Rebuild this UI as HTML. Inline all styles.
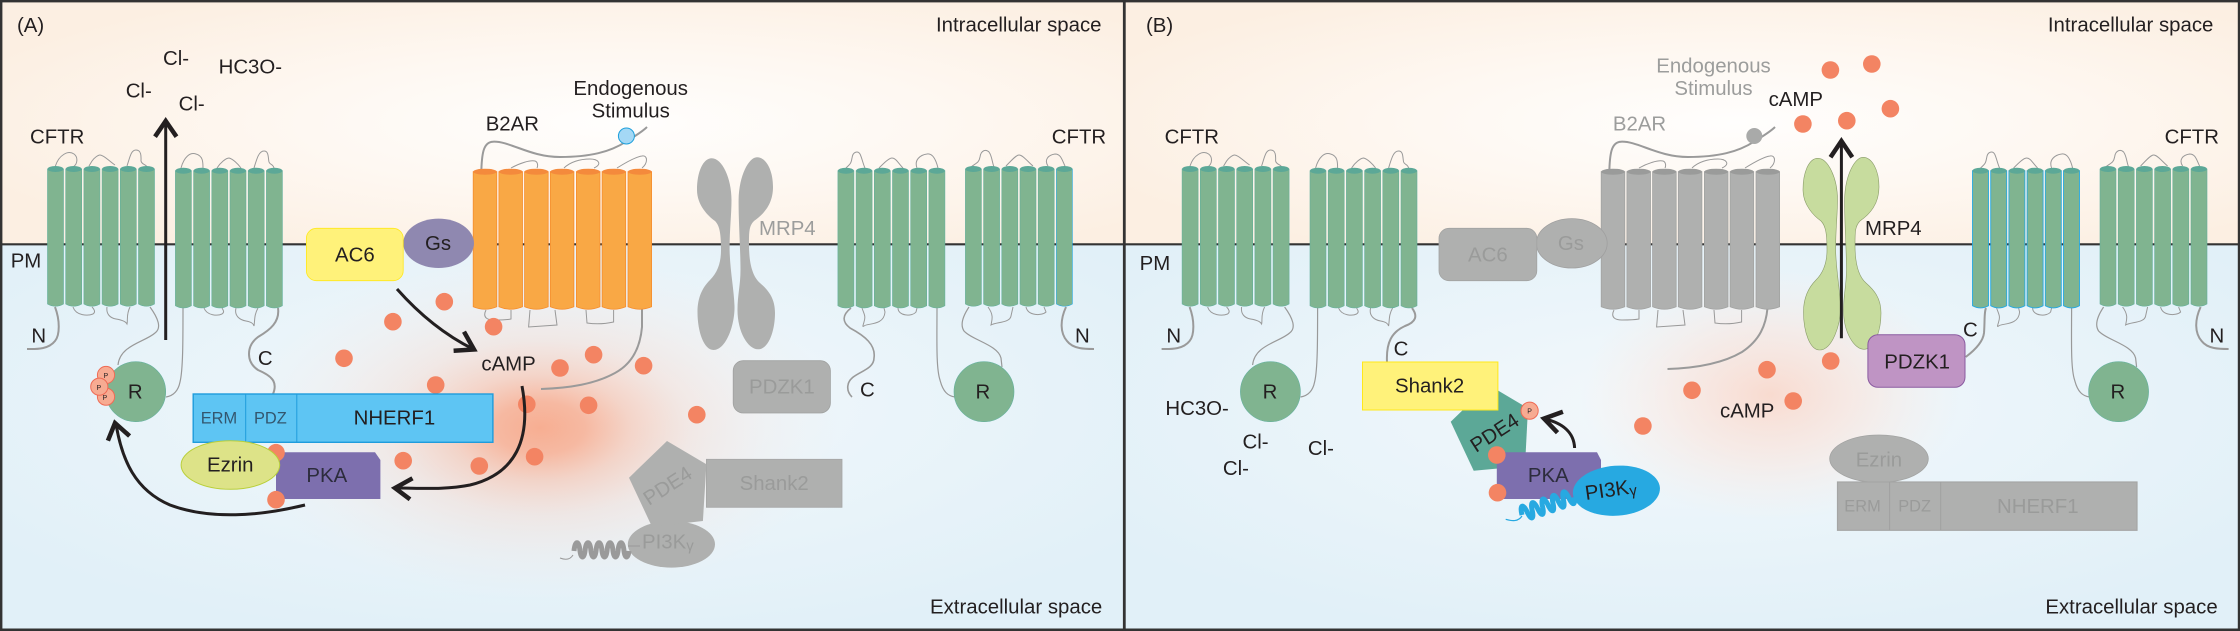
<!DOCTYPE html>
<html><head><meta charset="utf-8"><style>
html,body{margin:0;padding:0;background:#fff}
svg{display:block}
text{font-family:"Liberation Sans",sans-serif;font-size:20.4px;fill:#231f20}
.g{fill:#9c9d9c}
.d{fill:#9a9b9a}
.s{font-size:16.4px}
.p{font-size:7px}
.dot{fill:#f38463}
.lp{fill:none;stroke:#999;stroke-width:1}
.tl{fill:none;stroke:#9a9a9a;stroke-width:2}
.ar{fill:none;stroke:#231f20;stroke-width:3}
.hd{fill:none;stroke:#231f20;stroke-width:4.5}
.pc{fill:#f7ab92;stroke:#ef6b55;stroke-width:1}
</style></head><body>
<svg width="2240" height="631" viewBox="0 0 2240 631" xmlns="http://www.w3.org/2000/svg">
<defs>
<radialGradient id="up" cx=".55" cy=".5" r=".62"><stop offset="0" stop-color="#fffefd"/><stop offset=".45" stop-color="#fef8f2"/><stop offset="1" stop-color="#fcefe2"/></radialGradient>
<radialGradient id="lo" cx=".5" cy=".42" r=".62"><stop offset="0" stop-color="#f3f8fb"/><stop offset="1" stop-color="#e1f0f8"/></radialGradient>
<radialGradient id="gA"><stop offset="0" stop-color="#f7ae92" stop-opacity="1"/><stop offset=".15" stop-color="#f7ae92" stop-opacity=".85"/><stop offset=".3" stop-color="#f7b49a" stop-opacity=".52"/><stop offset=".5" stop-color="#f7c4b0" stop-opacity=".28"/><stop offset=".75" stop-color="#f8d8cc" stop-opacity=".14"/><stop offset="1" stop-color="#f8e6de" stop-opacity="0"/></radialGradient>
<radialGradient id="gB"><stop offset="0" stop-color="#f9d9cd" stop-opacity=".95"/><stop offset=".5" stop-color="#f9e4dc" stop-opacity=".6"/><stop offset="1" stop-color="#f9ece6" stop-opacity="0"/></radialGradient>
<path id="cyl" d="M0,0V135Q8,139.5 16,135V0Z"/>
<path id="cyo" d="M0,0V135Q11.8,140 23.6,135V0Z"/>
<g id="coil"><path d="M0,0c1,-11 5,-11 6,0c1,8 4,8 5,0c1,-11 5,-11 6,0c1,8 4,8 5,0c1,-11 5,-11 6,0c1,8 4,8 5,0c1,-11 5,-11 6,0c1,8 4,8 5,0c1,-11 5,-11 6,0c1,8 4,8 5,0" fill="none" stroke-width="5"/></g>
<path id="mrp" d="M711.8,158.3C703,158.3 697,172 697,190C697,205 708,216 715,221C720,226 721,235 721,250C721,262 718,272 710,280C702,288 697.5,298 697.5,312C697.5,332 704,350 713.6,350C726,350 735,325 734.5,306C734,290 730,270 729.6,250C729.5,230 731.5,215 731.5,200C731.5,178 722,158.3 711.8,158.3ZM757,157.3C749,157.3 739,175 738.6,200C738.4,220 740.5,250 740.5,270C740.5,285 737.5,295 737.5,310C737.5,332 748,349.3 758,349.3C769,349.3 775,330 775,313C775,298 768,290 760,283C752,276 749,262 749,245C749,232 749,226 754,221C764,214 773,204 773,187C773,170 766,157.3 757,157.3Z"/>
<g id="cftrl">
<path class="lp" d="M55.4,166C59,155 68,150 74,154C78,157 78,164 73,167M89,166L92,161C94,158 98,155 100,155C104,155 110,162 115,165M127,166C130,157 131,150 136,150C142,150 141,158 141,161C142,165 146,164 147,167M181,168C184,157 190,152 196,154C203,156 203,162 203,168M217,168C220,163 226,158 229,158C233,159 238,164 241,168M254,168C257,158 259,151 264,151C269,151 268,158 269,162C270,165 273,164 274,168M73,307C76,316 88,316 93,314C96,312 94,309 92,307M107,307C106,314 110,318 116,319C122,320 126,322 127,324C128,320 126,315 130,307M204,308C207,316 218,316 222,314C225,312 223,310 222,308M236,308C234,316 240,320 246,321C251,322 253,323 254,326C255,320 254,315 258,308M846,168C850,164 851,164 852,158C853,151 858,151 860,154C862,158 863,164 865,168M879,168C884,163 889,158 892,158C896,158 898,163 903,168M917,168C914,160 920,155 927,154C933,153 936,160 938,168M862,308C864,314 866,316 864,322C863,326 862,327 864,326C867,323 884,326 885,312L884,308M898,308C898,316 912,317 916,312L917,308M971,167C976,163 979,163 980,157C981,150 986,149 989,152C992,156 992,162 994,167M1006,166C1011,161 1016,155 1019,155C1023,155 1028,162 1033,166M1048,166C1044,160 1048,155 1055,154C1061,154 1062,160 1065,166M988,307C994,315 992,320 991,325C996,322 1010,323 1011,316L1013,307M1026,307C1028,316 1042,316 1046,312L1044,307"/>
<path class="lp" d="M150,307C158,318 162,328 155,333C145,342 120,345 118,365M183,308C183,340 183,370 180,382C178,392 172,396 166,397M937,308C937,340 936,368 940,380C943,392 948,396 955,397M969,307C963,316 960,325 964,331C972,340 998,345 1001,358L1002,367" style="stroke-width:1.2"/>
<path class="tl" d="M55,307C60,320 60,335 55,341C48,350 35,349 27,349M1066,307C1060,320 1060,333 1067,341C1073,349 1085,349 1094,349"/>
</g>
<g id="b2l">
<path class="lp" d="M511,168C520,163 530,160 535,161C538,162 538,166 537,168M564,168C570,162 580,159 590,159C598,159 603,164 594,168M617,168C625,163 635,157 642,156C648,155 648,163 642,168M486,310C482,318 488,320 494,320C500,320 506,320 511,319V310M530,310L528.6,327L557,325L555,310M586,310L587,323Q600,325 613.6,322L613.6,310"/>
<path class="tl" d="M481.4,169C482,152 484,142 493,141.7C510,141 530,157 560,157C590,157 610,152 626,141.7C635,136 642,132 647,127"/>
</g>
</defs>

<!-- backgrounds -->
<rect x="0" y="0" width="2240" height="631" fill="#fff"/>
<rect x="2" y="2" width="1122" height="242" fill="url(#up)"/>
<rect x="1124" y="2" width="1116" height="242" fill="url(#up)"/>
<rect x="2" y="244" width="1122" height="386" fill="url(#lo)"/>
<rect x="1124" y="244" width="1116" height="386" fill="url(#lo)"/>
<ellipse cx="540" cy="428" rx="300" ry="175" fill="url(#gA)"/>
<ellipse cx="1770" cy="395" rx="190" ry="125" fill="url(#gB)"/>
<line x1="0" y1="244.3" x2="2240" y2="244.3" stroke="#333" stroke-width="2.2"/>

<!-- PANEL A cylinders -->
<use href="#cftrl"/>
<g fill="#80b490" stroke="#63b09c" stroke-width=".6">
<use href="#cyl" x="47.5" y="169"/><use href="#cyl" x="65.7" y="169"/><use href="#cyl" x="83.9" y="169"/><use href="#cyl" x="102.1" y="169"/><use href="#cyl" x="120.3" y="169"/><use href="#cyl" x="138.5" y="169"/>
<use href="#cyl" x="175.4" y="170.7"/><use href="#cyl" x="193.6" y="170.7"/><use href="#cyl" x="211.8" y="170.7"/><use href="#cyl" x="230" y="170.7"/><use href="#cyl" x="248.2" y="170.7"/><use href="#cyl" x="266.4" y="170.7"/>
<use href="#cyl" x="837.9" y="170.7"/><use href="#cyl" x="856.1" y="170.7"/><use href="#cyl" x="874.3" y="170.7"/><use href="#cyl" x="892.5" y="170.7"/><use href="#cyl" x="910.7" y="170.7"/><use href="#cyl" x="928.9" y="170.7"/>
<use href="#cyl" x="965.4" y="169"/><use href="#cyl" x="983.6" y="169"/><use href="#cyl" x="1001.8" y="169"/><use href="#cyl" x="1020" y="169"/><use href="#cyl" x="1038.2" y="169"/>
<use href="#cyl" x="1056.4" y="169" stroke="#27a9e1"/>
</g>
<g fill="#5ca897">
<ellipse cx="55.5" cy="169" rx="8" ry="3"/><ellipse cx="73.7" cy="169" rx="8" ry="3"/><ellipse cx="91.9" cy="169" rx="8" ry="3"/><ellipse cx="110.1" cy="169" rx="8" ry="3"/><ellipse cx="128.3" cy="169" rx="8" ry="3"/><ellipse cx="146.5" cy="169" rx="8" ry="3"/>
<ellipse cx="183.4" cy="170.7" rx="8" ry="3"/><ellipse cx="201.6" cy="170.7" rx="8" ry="3"/><ellipse cx="219.8" cy="170.7" rx="8" ry="3"/><ellipse cx="238" cy="170.7" rx="8" ry="3"/><ellipse cx="256.2" cy="170.7" rx="8" ry="3"/><ellipse cx="274.4" cy="170.7" rx="8" ry="3"/>
<ellipse cx="845.9" cy="170.7" rx="8" ry="3"/><ellipse cx="864.1" cy="170.7" rx="8" ry="3"/><ellipse cx="882.3" cy="170.7" rx="8" ry="3"/><ellipse cx="900.5" cy="170.7" rx="8" ry="3"/><ellipse cx="918.7" cy="170.7" rx="8" ry="3"/><ellipse cx="936.9" cy="170.7" rx="8" ry="3"/>
<ellipse cx="973.4" cy="169" rx="8" ry="3"/><ellipse cx="991.6" cy="169" rx="8" ry="3"/><ellipse cx="1009.8" cy="169" rx="8" ry="3"/><ellipse cx="1028" cy="169" rx="8" ry="3"/><ellipse cx="1046.2" cy="169" rx="8" ry="3"/><ellipse cx="1064.4" cy="169" rx="8" ry="3"/>
</g>
<!-- A tails -->
<path class="tl" d="M278,308C280,322 270,330 258,337C246,346 246,362 258,370C272,376 278,382 273,394"/>
<path class="tl" style="stroke-width:1.6" d="M851,308C842,315 842,322 850,328C865,336 876,345 874,358C874,372 850,372 848,385C847,390 849,394 852,397"/>
<use href="#b2l"/>
<path class="tl" d="M642,308V327C640,350 630,365 615,373C595,384 570,388 541,389"/>
<g fill="#f9a845" stroke="#f58d2e" stroke-width=".8">
<use href="#cyo" x="473.2" y="171.7"/><use href="#cyo" x="498.9" y="171.7"/><use href="#cyo" x="524.6" y="171.7"/><use href="#cyo" x="550.3" y="171.7"/><use href="#cyo" x="576.4" y="171.7"/><use href="#cyo" x="602.1" y="171.7"/><use href="#cyo" x="628" y="171.7"/>
</g>
<g fill="#f48a3c">
<ellipse cx="485" cy="171.7" rx="11.8" ry="3"/><ellipse cx="510.7" cy="171.7" rx="11.8" ry="3"/><ellipse cx="536.4" cy="171.7" rx="11.8" ry="3"/><ellipse cx="562.1" cy="171.7" rx="11.8" ry="3"/><ellipse cx="588.2" cy="171.7" rx="11.8" ry="3"/><ellipse cx="613.9" cy="171.7" rx="11.8" ry="3"/><ellipse cx="639.8" cy="171.7" rx="11.8" ry="3"/>
</g>
<circle cx="626.4" cy="136" r="8" fill="#a4d8f5" stroke="#1fa0dc"/>
<!-- A MRP4 -->
<use href="#mrp" fill="#afb0af"/>
<!-- A AC6 Gs -->
<ellipse cx="438.6" cy="243.3" rx="35.4" ry="24.7" fill="#8f88b0"/>
<rect x="306.4" y="228.3" width="96.8" height="52.4" rx="10" fill="#fff27a" stroke="#ffe81a" stroke-width=".8"/>
<!-- A R -->
<circle cx="135.7" cy="391.7" r="30" fill="#80b490" stroke="#63b09c" stroke-width=".6"/>
<circle class="pc" cx="106" cy="375" r="8.6"/><circle class="pc" cx="106" cy="396.7" r="8.6"/><circle class="pc" cx="99.3" cy="386.7" r="8.6"/>
<circle cx="984" cy="391.7" r="30" fill="#80b490" stroke="#63b09c" stroke-width=".6"/>
<!-- A PKA -->
<polygon points="276,452.3 375,452.3 380.4,460 380.4,499 276,499" fill="#7d6fae"/>
<!-- A dots -->
<g class="dot">
<circle cx="444.3" cy="301.7" r="8.8"/><circle cx="392.9" cy="321.7" r="8.8"/><circle cx="493.6" cy="326.7" r="8.8"/><circle cx="344" cy="358.3" r="8.8"/><circle cx="435.7" cy="385" r="8.8"/><circle cx="526.8" cy="404.3" r="8.8"/><circle cx="560" cy="368" r="8.8"/><circle cx="403.2" cy="460.7" r="8.8"/><circle cx="479.3" cy="466" r="8.8"/><circle cx="534.6" cy="456.7" r="8.8"/><circle cx="593.6" cy="354.7" r="8.8"/><circle cx="643.6" cy="365.7" r="8.8"/><circle cx="588.6" cy="405.3" r="8.8"/><circle cx="696.8" cy="414.7" r="8.8"/><circle cx="276" cy="452.7" r="8.8"/><circle cx="276" cy="499.7" r="8.8"/>
</g>
<!-- A NHERF/Ezrin -->
<rect x="193.2" y="394" width="299.7" height="48.3" fill="#5ec5f3" stroke="#1f9cdc" stroke-width="1.4"/>
<line x1="245.7" y1="394" x2="245.7" y2="442" stroke="#1f9cdc" stroke-width="1"/>
<line x1="296.8" y1="394" x2="296.8" y2="442" stroke="#1f9cdc" stroke-width="1"/>
<ellipse cx="230.4" cy="465" rx="49.3" ry="24.3" fill="#dde388" stroke="#b9cf3a"/>
<!-- A grey group -->
<rect x="733.2" y="360.7" width="97.2" height="52.3" rx="10" fill="#afb0af" stroke="#a0a1a0" stroke-width=".8"/>
<rect x="706.4" y="459.3" width="135.6" height="48" fill="#afb0af" stroke="#a5a6a5" stroke-width=".8"/>
<ellipse cx="671.4" cy="544.3" rx="43.6" ry="23.3" fill="#afb0af"/>
<polygon points="667,441 706.4,464.3 702.9,521 652,526.7 629,477.7" fill="#afb0af"/>
<path d="M560,558C565,560 570,560 573,555" fill="none" stroke="#999" stroke-width="1"/>
<line x1="628" y1="546" x2="640" y2="546" stroke="#999"/>
<use href="#coil" x="574" y="551" stroke="#9a9a9a"/>
<!-- A arrows -->
<line x1="165.7" y1="340" x2="165.7" y2="120" stroke="#231f20" stroke-width="3"/>
<polyline class="hd" points="155,136.7 165.7,121 176.5,136.7"/>
<path class="ar" d="M397,289C420,315 445,335 473,349"/>
<polyline class="hd" points="464,331.7 474,349.5 453.6,350.7"/>
<path class="ar" d="M522,386C532,440 515,474 470,485C445,490 420,488 396,488"/>
<polyline class="hd" points="412.5,478.3 395,488 410,499.3"/>
<path class="ar" d="M305,505C260,516 210,520 170,505C135,490 122,460 116,424"/>
<polyline class="hd" points="107.9,440.7 115,423 129.6,436"/>
<!-- A text -->
<text x="17" y="32">(A)</text>
<text x="163" y="65">Cl-</text><text x="218.6" y="73.3">HC3O-</text><text x="125.7" y="97.3">Cl-</text><text x="178.6" y="110.7">Cl-</text>
<text x="30" y="143.3">CFTR</text><text x="485.7" y="130.7">B2AR</text><text x="10.7" y="267.3">PM</text>
<text x="335" y="261.3">AC6</text><text x="425" y="250">Gs</text>
<text x="630.7" y="95" text-anchor="middle">Endogenous</text><text x="630.7" y="117.7" text-anchor="middle">Stimulus</text>
<text x="936" y="31.7">Intracellular space</text><text x="930" y="613.3">Extracellular space</text>
<text x="1051.8" y="143.3">CFTR</text>
<text x="31.4" y="342.7">N</text><text x="257.9" y="365">C</text><text x="860" y="396.7">C</text><text x="1075" y="342.7">N</text>
<text x="127.9" y="398.3">R</text><text x="975.5" y="398.3">R</text>
<text class="p" x="103.5" y="378">P</text><text class="p" x="102.5" y="400">P</text><text class="p" x="96.5" y="390">P</text>
<text class="s" x="200.7" y="423.3" style="fill:#33566e">ERM</text><text class="s" x="254" y="423.3" style="fill:#33566e">PDZ</text><text x="353.6" y="424.5">NHERF1</text>
<text x="207" y="471.7">Ezrin</text><text x="306.4" y="482" style="fill:#2c2c3c">PKA</text>
<text x="481.4" y="370.7">cAMP</text>
<text class="g" x="759" y="235">MRP4</text>
<text class="d" x="749" y="393.3">PDZK1</text><text class="d" x="739.6" y="490">Shank2</text>
<text class="d" x="642" y="548.3">PI3K<tspan font-size="15" dy="2">γ</tspan></text>
<text class="d" transform="translate(649,506) rotate(-33)">PDE4</text>

<!-- PANEL B -->
<g transform="translate(1134.6,0)"><use href="#cftrl"/></g>
<g fill="#80b490" stroke="#63b09c" stroke-width=".6">
<use href="#cyl" x="1182.1" y="169"/><use href="#cyl" x="1200.3" y="169"/><use href="#cyl" x="1218.5" y="169"/><use href="#cyl" x="1236.7" y="169"/><use href="#cyl" x="1254.9" y="169"/><use href="#cyl" x="1273.1" y="169"/>
<use href="#cyl" x="1310" y="170.7"/><use href="#cyl" x="1328.2" y="170.7"/><use href="#cyl" x="1346.4" y="170.7"/><use href="#cyl" x="1364.6" y="170.7"/><use href="#cyl" x="1382.8" y="170.7"/><use href="#cyl" x="1401" y="170.7"/>
<use href="#cyl" x="2100" y="169"/><use href="#cyl" x="2118.2" y="169"/><use href="#cyl" x="2136.4" y="169"/><use href="#cyl" x="2154.6" y="169"/><use href="#cyl" x="2172.8" y="169"/><use href="#cyl" x="2191" y="169"/>
</g>
<g fill="#80b490" stroke="#27a9e1" stroke-width=".9">
<use href="#cyl" x="1972.5" y="170.7"/><use href="#cyl" x="1990.7" y="170.7"/><use href="#cyl" x="2008.9" y="170.7"/><use href="#cyl" x="2027.1" y="170.7"/><use href="#cyl" x="2045.3" y="170.7"/><use href="#cyl" x="2063.5" y="170.7"/>
</g>
<g fill="#5ca897">
<ellipse cx="1190.1" cy="169" rx="8" ry="3"/><ellipse cx="1208.3" cy="169" rx="8" ry="3"/><ellipse cx="1226.5" cy="169" rx="8" ry="3"/><ellipse cx="1244.7" cy="169" rx="8" ry="3"/><ellipse cx="1262.9" cy="169" rx="8" ry="3"/><ellipse cx="1281.1" cy="169" rx="8" ry="3"/>
<ellipse cx="1318" cy="170.7" rx="8" ry="3"/><ellipse cx="1336.2" cy="170.7" rx="8" ry="3"/><ellipse cx="1354.4" cy="170.7" rx="8" ry="3"/><ellipse cx="1372.6" cy="170.7" rx="8" ry="3"/><ellipse cx="1390.8" cy="170.7" rx="8" ry="3"/><ellipse cx="1409" cy="170.7" rx="8" ry="3"/>
<ellipse cx="1980.5" cy="170.7" rx="8" ry="3"/><ellipse cx="1998.7" cy="170.7" rx="8" ry="3"/><ellipse cx="2016.9" cy="170.7" rx="8" ry="3"/><ellipse cx="2035.1" cy="170.7" rx="8" ry="3"/><ellipse cx="2053.3" cy="170.7" rx="8" ry="3"/><ellipse cx="2071.5" cy="170.7" rx="8" ry="3"/>
<ellipse cx="2108" cy="169" rx="8" ry="3"/><ellipse cx="2126.2" cy="169" rx="8" ry="3"/><ellipse cx="2144.4" cy="169" rx="8" ry="3"/><ellipse cx="2162.6" cy="169" rx="8" ry="3"/><ellipse cx="2180.8" cy="169" rx="8" ry="3"/><ellipse cx="2199" cy="169" rx="8" ry="3"/>
</g>
<path class="tl" d="M1412,308C1418,316 1416,322 1405,326C1392,332 1386,342 1387,362"/>
<path class="tl" d="M1986,308C1984,312 1985,320 1984,333C1983,342 1975,350 1965.7,357"/>
<g transform="translate(1128,0)"><use href="#b2l"/></g>
<path class="tl" d="M1767.5,308C1766,325 1760,340 1742,352C1725,362 1700,368 1667.5,369"/>
<g fill="#afb0af" stroke="#a2a3a2" stroke-width=".8">
<use href="#cyo" x="1601.2" y="171.7"/><use href="#cyo" x="1626.9" y="171.7"/><use href="#cyo" x="1652.6" y="171.7"/><use href="#cyo" x="1678.3" y="171.7"/><use href="#cyo" x="1704.4" y="171.7"/><use href="#cyo" x="1730.1" y="171.7"/><use href="#cyo" x="1756" y="171.7"/>
</g>
<g fill="#9a9b9a">
<ellipse cx="1613" cy="171.7" rx="11.8" ry="3"/><ellipse cx="1638.7" cy="171.7" rx="11.8" ry="3"/><ellipse cx="1664.4" cy="171.7" rx="11.8" ry="3"/><ellipse cx="1690.1" cy="171.7" rx="11.8" ry="3"/><ellipse cx="1716.2" cy="171.7" rx="11.8" ry="3"/><ellipse cx="1741.9" cy="171.7" rx="11.8" ry="3"/><ellipse cx="1767.8" cy="171.7" rx="11.8" ry="3"/>
</g>
<circle cx="1754.3" cy="136" r="8" fill="#a9aaa9"/>
<!-- B MRP4 -->
<g transform="translate(1106,0)"><use href="#mrp" fill="#c7dc9e" stroke="#8a9c6a" stroke-width=".6"/></g>
<!-- B AC6 Gs -->
<ellipse cx="1571.8" cy="243.3" rx="35.4" ry="24.7" fill="#afb0af" stroke="#9f9f9f" stroke-width=".8"/>
<rect x="1439" y="228.3" width="97.8" height="52.4" rx="10" fill="#afb0af" stroke="#a2a3a2" stroke-width=".8"/>
<!-- B R -->
<circle cx="1270.4" cy="391.7" r="30" fill="#80b490" stroke="#63b09c" stroke-width=".6"/>
<circle cx="2118.6" cy="391.7" r="30" fill="#80b490" stroke="#63b09c" stroke-width=".6"/>
<!-- B PDZK1 -->
<rect x="1867.9" y="334.7" width="97.1" height="52.6" rx="10" fill="#bf94c4" stroke="#8a5aa0"/>
<!-- B PDE4 Shank -->
<polygon points="1488.7,385 1528,408.3 1525,466 1473.7,470.7 1450.7,421.7" fill="#5ca897"/>
<rect x="1362.5" y="362" width="135.4" height="48" fill="#fff27a" stroke="#ffe81a"/>
<circle class="pc" cx="1529.6" cy="410.7" r="8.6"/>
<polygon points="1496.8,452.3 1597,452.3 1601,460 1601,499 1496.8,499" fill="#7d6fae"/>
<g class="dot"><circle cx="1496.8" cy="455" r="8.8"/><circle cx="1497.5" cy="492.7" r="8.8"/></g>
<ellipse cx="1616.4" cy="490.7" rx="43.6" ry="25" fill="#27a9e1" transform="rotate(-4 1616.4 490.7)"/>
<path d="M1505.7,519.3C1512,521 1518,522 1522,516" fill="none" stroke="#27a9e1" stroke-width="1.2"/>
<use href="#coil" transform="translate(1522,515) rotate(-19)" stroke="#27a9e1"/>
<!-- B ezrin nherf -->
<ellipse cx="1879" cy="458.7" rx="49.3" ry="23.7" fill="#afb0af" stroke="#a2a3a2" stroke-width=".8"/>
<rect x="1837.5" y="482" width="299.5" height="48.3" fill="#afb0af" stroke="#a5a6a5" stroke-width="1.2"/>
<line x1="1889.6" y1="482" x2="1889.6" y2="530" stroke="#a0a1a0"/>
<line x1="1940.7" y1="482" x2="1940.7" y2="530" stroke="#a0a1a0"/>
<!-- B dots -->
<g class="dot">
<circle cx="1830.4" cy="70" r="8.8"/><circle cx="1871.8" cy="64" r="8.8"/><circle cx="1802.9" cy="124" r="8.8"/><circle cx="1846.8" cy="120.7" r="8.8"/><circle cx="1890.4" cy="108.7" r="8.8"/><circle cx="1767" cy="369.7" r="8.8"/><circle cx="1692" cy="390.3" r="8.8"/><circle cx="1830.7" cy="361" r="8.8"/><circle cx="1793.2" cy="401" r="8.8"/><circle cx="1642.9" cy="426" r="8.8"/>
</g>
<!-- B arrows -->
<line x1="1841.4" y1="338.3" x2="1841.4" y2="141" stroke="#231f20" stroke-width="3"/>
<polyline class="hd" points="1830.5,157.3 1841.4,141 1852.3,157.3"/>
<path class="ar" d="M1574.6,448C1574,432 1562,423 1545,419"/>
<polyline class="hd" points="1562.9,411.7 1544,418.6 1557.5,432.7"/>
<!-- B text -->
<text x="1146" y="32">(B)</text>
<text x="1164.6" y="143.3">CFTR</text><text class="g" x="1612.9" y="130.7">B2AR</text><text x="1139.6" y="270">PM</text>
<text class="d" x="1468" y="261.3">AC6</text><text class="d" x="1557.9" y="250">Gs</text>
<text class="g" x="1713.5" y="72.3" text-anchor="middle">Endogenous</text><text class="g" x="1713.5" y="95" text-anchor="middle">Stimulus</text>
<text x="2047.9" y="31.7">Intracellular space</text><text x="2045.4" y="613.3">Extracellular space</text>
<text x="2164.6" y="143.3">CFTR</text>
<text x="1166.4" y="342.7">N</text><text x="1393.6" y="355.7">C</text><text x="1963" y="336.7">C</text><text x="2209.5" y="342.7">N</text>
<text x="1262.6" y="398.3">R</text><text x="2110.5" y="398.3">R</text>
<text x="1165.4" y="415">HC3O-</text><text x="1242.5" y="448.3">Cl-</text><text x="1222.9" y="475">Cl-</text><text x="1307.9" y="455">Cl-</text>
<text x="1395" y="392.7">Shank2</text>
<text x="1768.6" y="106">cAMP</text><text x="1720" y="417.7">cAMP</text>
<text x="1865" y="235">MRP4</text><text x="1884.3" y="368.3">PDZK1</text>
<text class="p" x="1527.2" y="413.5">P</text>
<text transform="translate(1476,453) rotate(-33)">PDE4</text>
<text x="1527.9" y="482" style="fill:#2c2c3c">PKA</text>
<text transform="translate(1586,500) rotate(-8)">PI3K<tspan font-size="15" dy="2">γ</tspan></text>
<text class="d" x="1855.7" y="466.7">Ezrin</text>
<text class="s d" x="1844.3" y="511.7">ERM</text><text class="s d" x="1898.2" y="511.7">PDZ</text><text class="d" x="1997" y="513">NHERF1</text>

<!-- borders -->
<rect x="0" y="0" width="2240" height="2.4" fill="#333"/>
<rect x="0" y="628.5" width="2240" height="2.5" fill="#333"/>
<rect x="0" y="0" width="2.4" height="631" fill="#333"/>
<rect x="2237.8" y="0" width="2.2" height="631" fill="#333"/>
<rect x="1122.9" y="0" width="2.8" height="631" fill="#333"/>
</svg>
</body></html>
